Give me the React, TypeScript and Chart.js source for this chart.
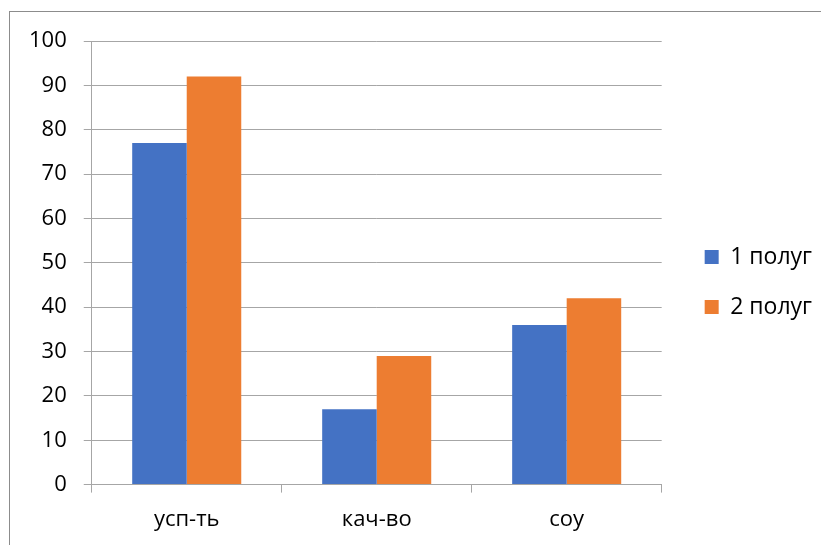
import React, { useEffect, useRef } from "react";
import { Chart, registerables } from "chart.js";

Chart.register(...registerables);

const categories = ["усп-ть", "кач-во", "соу"];
const series1Label = "1 полуг";
const series2Label = "2 полуг";
const series1Values = [77, 17, 36];
const series2Values = [92, 29, 42];
const yTicks = [0, 10, 20, 30, 40, 50, 60, 70, 80, 90, 100];

const FONT = "'Open Sans', sans-serif";

const frame = {
  id: "frame",
  beforeDraw(chart: any) {
    const ctx = chart.ctx;
    ctx.save();
    ctx.fillStyle = "#ffffff";
    ctx.fillRect(0, 0, chart.width, chart.height);
    ctx.strokeStyle = "#8c8c8c";
    ctx.lineWidth = 1;
    ctx.strokeRect(9.5, 11.5, chart.width + 20, chart.height + 20);
    ctx.restore();
  },
};

const legendShift = {
  id: "legendShift",
  afterLayout(chart: any) {
    const lg = chart.legend;
    if (!lg) return;
    lg.left += 16;
    lg.right += 16;
    lg.top -= 12;
    lg.bottom -= 12;
  },
};

export default function App() {
  const ref = useRef<HTMLCanvasElement>(null);
  useEffect(() => {
    if (!ref.current) return;
    const chart = new Chart(ref.current, {
      type: "bar",
      data: {
        labels: categories,
        datasets: [
          {
            label: series1Label,
            data: series1Values,
            backgroundColor: "#4472C4",
            categoryPercentage: 0.574,
            barPercentage: 1,
          },
          {
            label: series2Label,
            data: series2Values,
            backgroundColor: "#ED7D31",
            categoryPercentage: 0.574,
            barPercentage: 1,
          },
        ],
      },
      options: {
        responsive: false,
        animation: false,
        layout: { padding: { top: 41, left: 12, right: 15, bottom: -2 } },
        plugins: {
          legend: {
            position: "right",
            labels: {
              boxWidth: 14,
              boxHeight: 14,
              padding: 27,
              color: "#000",
              font: { family: FONT, size: 23 },
            },
          },
          tooltip: { enabled: false },
        },
        scales: {
          x: {
            grid: {
              offset: true,
              drawOnChartArea: false,
              drawTicks: true,
              tickLength: 8,
              color: "#a6a6a6",
            },
            border: { color: "#a6a6a6", width: 1 },
            ticks: { color: "#000", padding: 14, font: { family: FONT, size: 22 } },
          },
          y: {
            min: 0,
            max: 100,
            afterBuildTicks: (axis: any) => {
              axis.ticks = yTicks.map((v) => ({ value: v }));
            },
            grid: { color: "#a6a6a6", tickLength: 8 },
            border: { color: "#a6a6a6", width: 1 },
            ticks: { color: "#000", padding: 17, font: { family: FONT, size: 22 } },
          },
        },
      },
      plugins: [frame, legendShift],
    });
    return () => chart.destroy();
  }, []);
  return (
    <div style={{ position: "fixed", left: 0, top: 0, width: 821, height: 545, background: "#fff" }}>
      <canvas ref={ref} width={821} height={545} style={{ display: "block" }} />
    </div>
  );
}
